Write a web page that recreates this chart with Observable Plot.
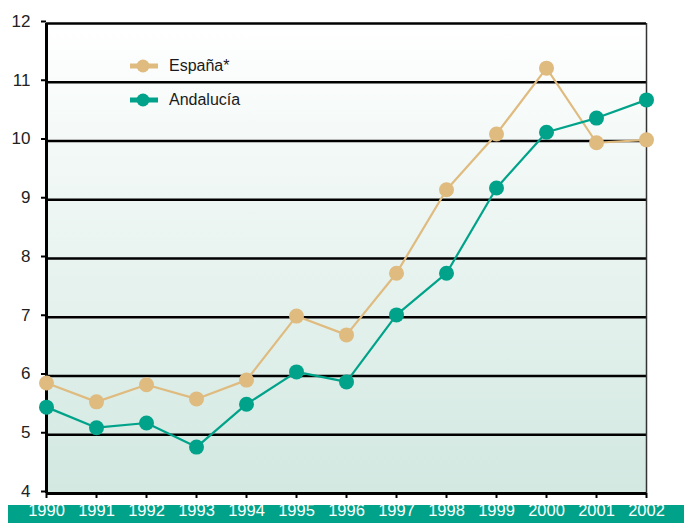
<!DOCTYPE html>
<html>
<head>
<meta charset="utf-8">
<script src="https://cdn.jsdelivr.net/npm/d3@7"></script>
<script src="https://cdn.jsdelivr.net/npm/@observablehq/plot@0.6"></script>
<style>
  html, body { margin: 0; padding: 0; background: #fff; }
  #wrap { position: relative; width: 684px; height: 523px; overflow: hidden; }
  #band { position: absolute; left: 8px; right: 0; top: 505px; height: 18px; background: #00a38a; }
  #chart { position: absolute; left: 0; top: 0; }
  #legend { position: absolute; left: 130px; top: 56px; font-family: "Liberation Sans", Arial, sans-serif; font-size: 16px; color: #1a1a1a; }
  .item { display: flex; align-items: center; height: 20px; margin-bottom: 14px; }
  .item svg { margin-right: 11px; }
</style>
</head>
<body>
<div id="wrap">
  <div id="band"></div>
  <div id="chart"></div>
  <div id="legend"></div>
</div>
<script>
const years = [1990,1991,1992,1993,1994,1995,1996,1997,1998,1999,2000,2001,2002];
const espana = [5.88,5.56,5.85,5.61,5.93,7.02,6.70,7.75,9.17,10.12,11.24,9.97,10.02];
const andalucia = [5.47,5.12,5.20,4.79,5.52,6.07,5.90,7.04,7.75,9.20,10.15,10.39,10.70];
const seriesNames = ["España*", "Andalucía"];
const seriesColors = ["#dfbb7f", "#00a38a"];
const yTicks = [4,5,6,7,8,9,10,11,12];

const data = [];
years.forEach((yr, i) => {
  data.push({year: yr, value: espana[i], serie: seriesNames[0]});
  data.push({year: yr, value: andalucia[i], serie: seriesNames[1]});
});

const plot = Plot.plot({
  width: 684,
  height: 523,
  marginLeft: 46,
  marginRight: 38,
  marginTop: 23,
  marginBottom: 30,
  style: {background: "transparent", overflow: "visible"},
  x: {domain: [1990, 2002], ticks: years, tickFormat: d => String(d), label: null},
  y: {domain: [4, 12], ticks: yTicks, label: null},
  color: {domain: seriesNames, range: seriesColors},
  marks: [
    Plot.frame({fill: "url(#bggrad)", stroke: null}),
    Plot.ruleY(yTicks.slice(1), {stroke: "#000", strokeWidth: 2.5}),
    Plot.ruleX([2002], {stroke: "#333", strokeWidth: 1.5}),
    Plot.axisY({ticks: yTicks, tickSize: 5, tickPadding: 11, stroke: "#000", strokeWidth: 2, label: null,
      fontSize: 17, fill: "#222", fontFamily: "Liberation Sans, Arial, sans-serif", dy: -2}),
    Plot.axisX({ticks: years, tickSize: 5, tickPadding: 6, stroke: "#000", strokeWidth: 2, label: null,
      fontSize: 16.5, fill: "#fff", fontFamily: "Liberation Sans, Arial, sans-serif",
      tickFormat: d => String(d)}),
    Plot.ruleX([1990], {stroke: "#000", strokeWidth: 3}),
    Plot.ruleY([4], {stroke: "#000", strokeWidth: 3}),
    Plot.line(data, {x: "year", y: "value", z: "serie", stroke: "serie", strokeWidth: 2.2}),
    Plot.dot(data, {x: "year", y: "value", fill: "serie", r: 7.5})
  ]
});

// gradient definition
const ns = "http://www.w3.org/2000/svg";
const defs = document.createElementNS(ns, "defs");
defs.innerHTML = '<linearGradient id="bggrad" x1="0" y1="0" x2="0" y2="1">' +
  '<stop offset="0" stop-color="#ffffff"/><stop offset="1" stop-color="#d2e8e1"/></linearGradient>';
plot.insertBefore(defs, plot.firstChild);
document.getElementById("chart").appendChild(plot);

// legend
const legend = document.getElementById("legend");
seriesNames.forEach((name, i) => {
  const div = document.createElement("div");
  div.className = "item";
  div.innerHTML = `<svg width="28" height="16"><line x1="0" y1="8" x2="28" y2="8" stroke="${seriesColors[i]}" stroke-width="5"/><circle cx="13" cy="8" r="6.5" fill="${seriesColors[i]}"/></svg><span>${name}</span>`;
  legend.appendChild(div);
});
</script>
</body>
</html>
